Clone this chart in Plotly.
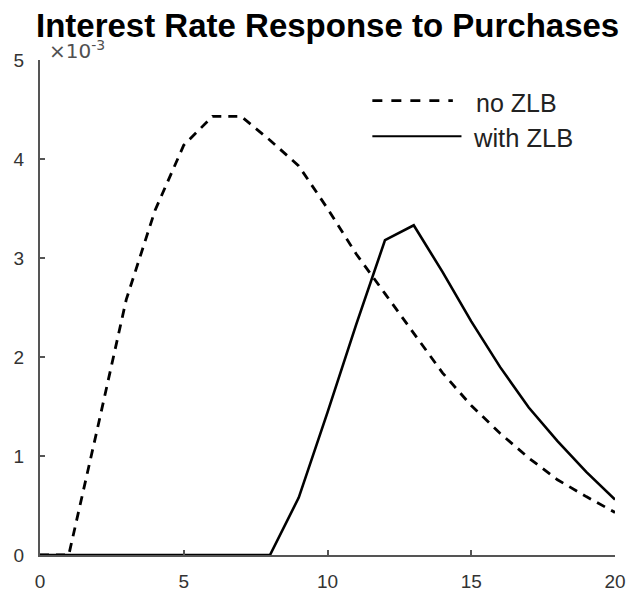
import plotly.graph_objects as go

# Impulse responses (units of 1e-3) over 20 periods
periods = list(range(0, 21))
no_zlb = [0.0, 0.0, 1.28, 2.58, 3.48, 4.14, 4.43, 4.43, 4.19, 3.93, 3.50,
          3.04, 2.64, 2.24, 1.84, 1.51, 1.23, 0.98, 0.76, 0.59, 0.43]
with_zlb = [0.0, 0.0, 0.0, 0.0, 0.0, 0.0, 0.0, 0.0, 0.0, 0.58, 1.44,
            2.33, 3.18, 3.33, 2.86, 2.36, 1.90, 1.49, 1.15, 0.84, 0.56]

x_ticks = [0, 5, 10, 15, 20]
y_ticks = [0, 1, 2, 3, 4, 5]

title_text = "Interest Rate Response to Purchases"
series_names = ["no ZLB", "with ZLB"]

axis_color = "#555555"
base_font = "Liberation Sans, Arial, sans-serif"
tick_font = dict(family=base_font, size=19, color="#333333")

fig = go.Figure()
fig.add_trace(go.Scatter(x=periods, y=with_zlb, mode="lines", name=series_names[1],
                         line=dict(color="black", width=2.6), showlegend=False))
fig.add_trace(go.Scatter(x=periods, y=no_zlb, mode="lines", name=series_names[0],
                         line=dict(color="black", width=2.8, dash="9px,7px"), showlegend=False))

# Hand-drawn legend: line samples plus labels
fig.add_shape(type="line", xref="paper", yref="paper", x0=0.578, x1=0.718, y0=0.918, y1=0.918,
              line=dict(color="black", width=2.6, dash="10px,9px"))
fig.add_shape(type="line", xref="paper", yref="paper", x0=0.578, x1=0.733, y0=0.846, y1=0.846,
              line=dict(color="black", width=2.2))

annotations = [
    dict(text="×10<sup>-3</sup>", xref="paper", yref="paper", x=0.012, y=1.02,
         xanchor="left", yanchor="middle", showarrow=False,
         font=dict(family="DejaVu Sans, sans-serif", size=20, color="#505050")),
    dict(text="<b>" + title_text + "</b>", xref="paper", yref="paper", x=0.5, y=1.069,
         xanchor="center", yanchor="middle", showarrow=False,
         font=dict(family=base_font, size=33, color="black")),
    dict(text=series_names[0], xref="paper", yref="paper", x=0.755, y=0.914,
         xanchor="left", yanchor="middle", showarrow=False,
         font=dict(family=base_font, size=25, color="#222222")),
    dict(text=series_names[1], xref="paper", yref="paper", x=0.750, y=0.842,
         xanchor="left", yanchor="middle", showarrow=False,
         font=dict(family=base_font, size=25.5, color="#222222")),
]

fig.update_layout(
    width=638, height=604,
    margin=dict(l=40, r=18, t=60, b=43),
    paper_bgcolor="white", plot_bgcolor="white",
    annotations=annotations,
    xaxis=dict(range=[0, 20], tickvals=x_ticks, ticktext=[str(v) for v in x_ticks],
               showgrid=False, zeroline=False, showline=True, linecolor=axis_color, linewidth=2,
               ticks="inside", ticklen=5, tickwidth=1.5, tickcolor=axis_color,
               tickfont=tick_font, ticklabelstandoff=8),
    yaxis=dict(range=[0, 5], tickvals=y_ticks, ticktext=[str(v) for v in y_ticks],
               showgrid=False, zeroline=False, showline=True, linecolor=axis_color, linewidth=2,
               ticks="inside", ticklen=5, tickwidth=1.5, tickcolor=axis_color,
               tickfont=tick_font, ticklabelstandoff=10),
)

fig.write_html("out.html")
